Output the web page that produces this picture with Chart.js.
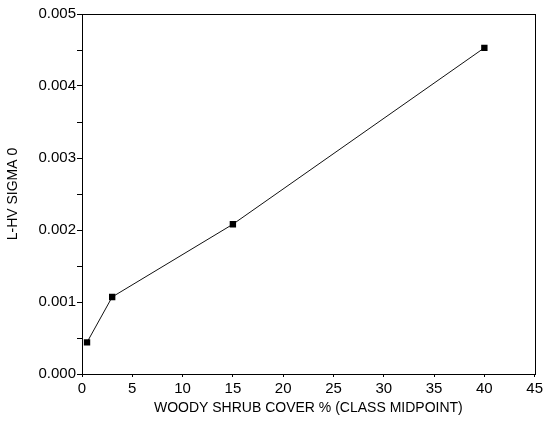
<!DOCTYPE html>
<html>
<head>
<meta charset="utf-8">
<script src="https://cdn.jsdelivr.net/npm/chart.js@4"></script>
<style>
  html, body { margin: 0; padding: 0; background: #fff; }
  canvas { display: block; }
</style>
</head>
<body>
<canvas id="c" width="546" height="421"></canvas>
<script>
const shrubCover = [0.5, 3, 15, 40];
const sigma0 = [0.00044, 0.00107, 0.00208, 0.00453];
const xTitle = 'WOODY SHRUB COVER % (CLASS MIDPOINT)';
const yTitle = 'L-HV SIGMA 0';

const FONT = 'Liberation Sans, Arial, Helvetica, sans-serif';

const frame = {
  id: 'frame',
  afterDraw(chart) {
    const a = chart.chartArea, ctx = chart.ctx;
    ctx.save();
    ctx.strokeStyle = '#000';
    ctx.lineWidth = 1;
    ctx.strokeRect(Math.round(a.left) + 0.5, Math.round(a.top) + 0.5,
                   Math.round(a.right - a.left), Math.round(a.bottom - a.top));
    ctx.restore();
  }
};

new Chart(document.getElementById('c'), {
  type: 'scatter',
  data: {
    datasets: [{
      data: shrubCover.map((x, i) => ({ x, y: sigma0[i] })),
      showLine: true,
      borderColor: '#111',
      borderWidth: 1,
      pointStyle: 'rect',
      pointRadius: 4.5,
      pointBackgroundColor: '#000',
      pointBorderColor: '#000',
      pointBorderWidth: 0
    }]
  },
  options: {
    responsive: false,
    animation: false,
    layout: { padding: { top: 14, right: 9, left: 0, bottom: 0 } },
    plugins: { legend: { display: false }, tooltip: { enabled: false } },
    scales: {
      x: {
        type: 'linear', min: 0, max: 45,
        afterFit(s) { s.height = 47; },
        ticks: { stepSize: 5, color: '#000', padding: 3, font: { family: FONT, size: 15 } },
        grid: { drawOnChartArea: false, tickLength: 3, color: '#000' },
        border: { color: '#000' },
        title: { display: true, text: xTitle, color: '#000', font: { family: FONT, size: 14 }, padding: { top: 0, bottom: 4 } }
      },
      y: {
        type: 'linear', min: 0, max: 0.005,
        afterFit(s) { s.width = 82; },
        ticks: {
          stepSize: 0.0005, color: '#000', padding: 1,
          font: { family: FONT, size: 15 },
          callback: (v) => (Math.round(v * 10000) % 10 === 0 ? v.toFixed(3) : '')
        },
        grid: { drawOnChartArea: false, tickLength: 5, color: '#000' },
        border: { color: '#000' },
        title: { display: true, text: yTitle, color: '#000', font: { family: FONT, size: 14 }, padding: { top: 5, bottom: 0 } }
      }
    }
  },
  plugins: [frame]
});
</script>
</body>
</html>
